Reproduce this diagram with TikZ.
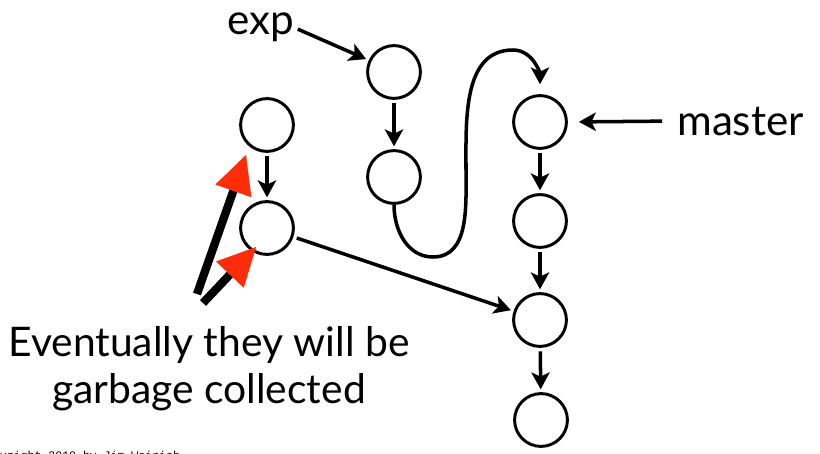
\documentclass[tikz,border=0pt]{standalone}
\usepackage{fontspec}
\setmainfont{Lato}
\newfontfamily\copyfont{Liberation Mono}
\usetikzlibrary{arrows.meta,positioning}
\definecolor{hotred}{RGB}{252,45,8}

\begin{document}
\begin{tikzpicture}[x=0.025cm,y=-0.025cm,
    commit/.style={circle,draw,line width=2.1pt,minimum size=1.32cm,inner sep=0pt},
    edge/.style={line width=2.5pt,-{Stealth[length=12pt,width=13pt,inset=3pt]},shorten >=2pt,shorten <=2.5pt},
    bigarrow/.style={line width=5.9pt,-{Triangle[length=0.95cm,width=0.95cm,line width=0.4pt,hotred]}},
    word/.style={font=\fontsize{30}{34}\selectfont,inner sep=0pt}]
    \useasboundingbox (0,0) rectangle (820,453);

    \node[commit] (exp1) at (394,72) {};
    \node[commit] (exp2) at (394,177) {};

    \node[commit] (m1) at (540,122) {};
    \node[commit] (m2) at (540,221) {};
    \node[commit] (m3) at (540,320) {};
    \node[commit] (m4) at (541,420) {};

    \node[commit] (g1) at (267,125) {};
    \node[commit] (g2) at (267,228) {};

    \node[word,anchor=base] (exp) at (261,35) {exp};
    \node[word,anchor=base west] (master) at (677,135) {master};
    \node[word,align=center,font=\fontsize{29}{33.5}\selectfont] (note) at (209,369) {Eventually they will be\\garbage collected};
    \node[font=\copyfont\fontsize{8.2}{10}\selectfont,anchor=north west,inner sep=0pt] (copy) at (-21,451) {Copyright 2010 by Jim Weirich};

    \coordinate (r1s) at (197,294);
    \coordinate (r1e) at (246,155);
    \coordinate (r2s) at (203,303);
    \coordinate (r2e) at (256,247);

    \draw[edge] (exp1) -- (exp2);
    \draw[edge] (m1) -- (m2);
    \draw[edge] (m2) -- (m3);
    \draw[edge] (m3) -- (m4);
    \draw[edge] (g1) -- (g2);
    \draw[edge] (g2) -- (m3);
    \draw[edge] (exp.east) -- (exp1.155);
    \draw[edge,shorten <=10.6pt,shorten >=7.8pt] (master.west) -- (m1.east);
    \draw[edge,shorten <=0pt,shorten >=7pt] (exp2.south) to[out=-90,in=180] (433,257)
        to[out=0,in=-90] (466,170) to[out=90,in=180] (513,50) to[out=0,in=90] (m1.north);

    \draw[bigarrow] (r1s) -- (r1e);
    \draw[bigarrow] (r2s) -- (r2e);
\end{tikzpicture}
\end{document}
